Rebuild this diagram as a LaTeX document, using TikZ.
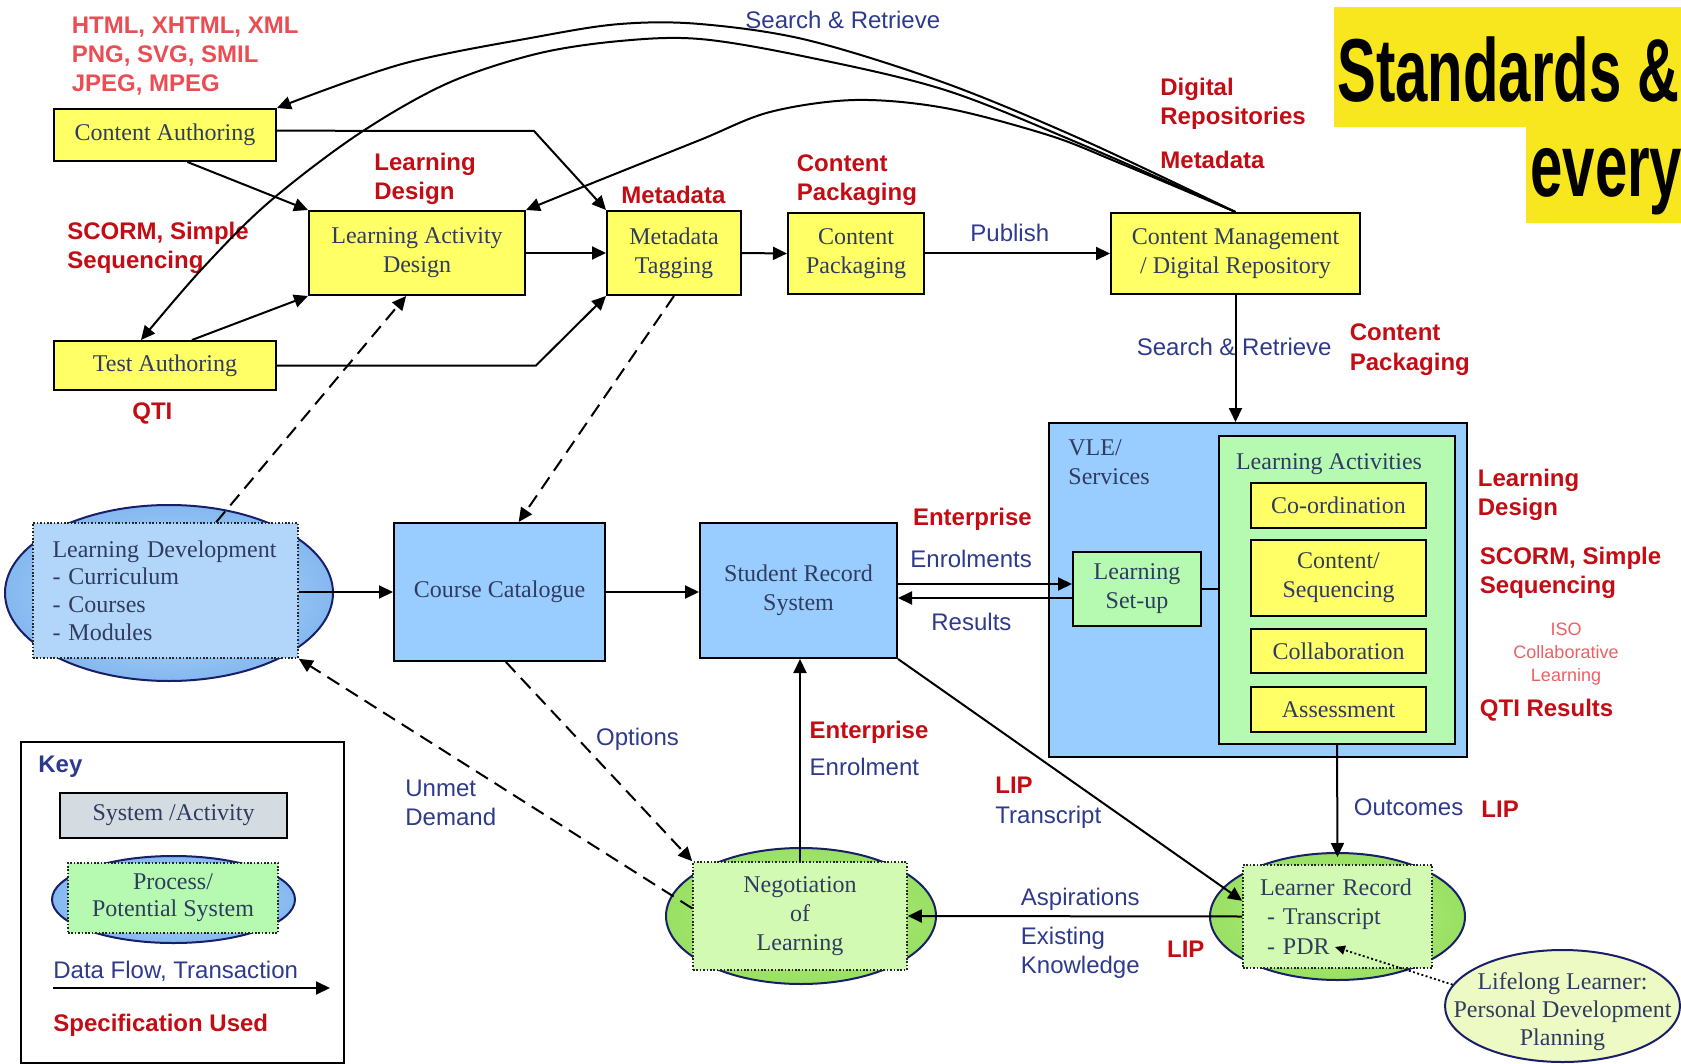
\documentclass[tikz,border=0pt]{standalone}
\usepackage{fontspec}
\setmainfont{Liberation Serif}
\setsansfont{Liberation Sans}
\newfontfamily\headfont{Liberation Sans}
\usetikzlibrary{arrows.meta,shapes.geometric,calc}

\definecolor{boxyellow}{RGB}{255,255,102}
\definecolor{sysblue}{RGB}{153,204,255}
\definecolor{devblue}{RGB}{178,214,250}
\definecolor{actgreen}{RGB}{182,250,178}
\definecolor{procgreen}{RGB}{210,250,178}
\definecolor{ellgreenin}{RGB}{190,240,140}
\definecolor{ellgreenout}{RGB}{152,224,98}
\definecolor{ellbluein}{RGB}{196,224,252}
\definecolor{ellblueout}{RGB}{132,184,240}
\definecolor{lifelong}{RGB}{238,250,196}
\definecolor{keygray}{RGB}{212,220,226}
\definecolor{ellline}{RGB}{25,30,105}
\definecolor{nodetext}{RGB}{48,60,95}
\definecolor{flowblue}{RGB}{46,58,140}
\definecolor{specred}{RGB}{196,12,20}
\definecolor{formatred}{RGB}{234,78,84}
\definecolor{isored}{RGB}{236,96,100}
\definecolor{titleyellow}{RGB}{248,230,30}

\newcommand\dgserif{\fontsize{12}{14.5}\selectfont\rmfamily}
\newcommand\dgsans{\fontsize{12}{14.5}\selectfont\sffamily}

\tikzset{
  sysbox/.style={draw=black, line width=1pt, inner sep=0pt, align=center, font=\dgserif, text=nodetext},
  ybox/.style={sysbox, fill=boxyellow},
  bbox/.style={sysbox, fill=sysblue},
  gbox/.style={sysbox, fill=actgreen},
  procell/.style={ellipse, draw=ellline, line width=1pt, inner sep=0pt},
  blueell/.style={procell, inner color=ellbluein, outer color=ellblueout},
  greenell/.style={procell, inner color=ellgreenin, outer color=ellgreenout},
  procrect/.style={draw=black!85, line width=0.8pt, dash pattern=on 0.8pt off 0.9pt, inner sep=0pt, font=\dgserif, text=nodetext},
  flow/.style={draw=black, line width=1pt, -{Triangle[length=7pt,width=6.5pt]}},
  maybe/.style={flow, dash pattern=on 7pt off 4pt},
  % multi-line labels: the base anchor sits on the last line
  spec/.style={anchor=base west, inner sep=0pt, align=left, font=\dgsans\bfseries, text=specred},
  fmt/.style={spec, text=formatred},
  flowlab/.style={anchor=base west, inner sep=0pt, align=left, font=\dgsans, text=flowblue},
  plainlab/.style={inner sep=0pt, font=\dgserif, text=nodetext},
}

\begin{document}
\begin{tikzpicture}[x=0.5pt, y=-0.5pt]
\useasboundingbox (0,0) rectangle (1681,1064);

% heading
\begin{scope}
  \clip (0,0) rectangle (1681,1064);
  \fill[titleyellow] (1334,7) rectangle (1681,127);
  \fill[titleyellow] (1526,127) rectangle (1681,223);
  \node[anchor=base west, inner sep=0pt, font=\headfont\bfseries\fontsize{44.7}{50}\selectfont] (title1) at (1337,102) {\scalebox{0.65}[1]{Standards \&}};
  \node[anchor=base west, inner sep=0pt, font=\headfont\bfseries\fontsize{44.7}{50}\selectfont] (title2) at (1530,197) {\scalebox{0.65}[1]{every}};
\end{scope}

% authoring chain
\node[ybox, minimum width=111pt, minimum height=26pt] (ca) at (165,135) {Content Authoring};
\node[ybox, minimum width=111pt, minimum height=24.5pt] (ta) at (165,365.5) {Test Authoring};
\node[ybox, minimum width=108pt, minimum height=42pt] (lad) at (417,253) {Learning Activity\\Design};
\node[ybox, minimum width=67pt, minimum height=42pt] (mt) at (674,253) {Metadata\\Tagging};
\node[ybox, minimum width=68pt, minimum height=40.5pt] (cp) at (856,253.5) {Content\\Packaging};
\node[ybox, minimum width=124.5pt, minimum height=40.5pt] (cms) at (1235.5,253.5) {Content Management\\/ Digital Repository};

% systems
\node[bbox, minimum width=105.5pt, minimum height=69pt] (cc) at (499.5,592) {Course Catalogue};
\node[bbox, minimum width=98.5pt, minimum height=67.5pt] (srs) at (798.5,590.5) {Student Record\\System};

% VLE
\node[bbox, minimum width=209pt, minimum height=167pt] (vle) at (1258,590) {};
\node[plainlab, anchor=base west, align=left] (vlelab) at (1068,484) {VLE/\\Services};
\node[gbox, minimum width=118pt, minimum height=154pt] (la) at (1337,590) {};
\node[plainlab, anchor=base] (lalab) at (1329,469) {Learning Activities};
\node[ybox, minimum width=87.5pt, minimum height=22.5pt] (coord) at (1338.5,505.5) {Co-ordination};
\node[ybox, minimum width=87.5pt, minimum height=38pt] (cseq) at (1338.5,578) {Content/\\Sequencing};
\node[ybox, minimum width=87.5pt, minimum height=22pt] (collab) at (1338.5,651) {Collaboration};
\node[ybox, minimum width=87.5pt, minimum height=22.5pt] (assess) at (1338.5,709.5) {Assessment};
\node[gbox, minimum width=64pt, minimum height=37pt] (ls) at (1137,589) {Learning\\Set-up};

% processes
\node[blueell, minimum width=164pt, minimum height=88pt] (lde) at (169,593) {};
\node[procrect, fill=devblue, minimum width=132.5pt, minimum height=67.5pt, text width=113pt, inner xsep=9.75pt, align=left, font=\fontsize{12}{13.9}\selectfont\rmfamily] (ldr) at (165.5,590.5) {Learning Development\\- Curriculum\\- Courses\\- Modules};

\node[greenell, minimum width=135pt, minimum height=68pt] (ne) at (801,916) {};
\node[procrect, fill=procgreen, minimum width=107pt, minimum height=54pt, align=center] (nr) at (800,916) {Negotiation\\of\\Learning};

\node[greenell, minimum width=127.5pt, minimum height=63.5pt] (lre) at (1337.5,916.5) {};
\node[procrect, fill=procgreen, minimum width=94.5pt, minimum height=51.5pt, text width=77.5pt, inner xsep=8.5pt, align=left, font=\fontsize{12}{14.75}\selectfont\rmfamily] (lrr) at (1337.5,916.5) {Learner Record\\\hspace*{3.5pt}- Transcript\\\hspace*{3.5pt}- PDR};

\node[procell, fill=lifelong, minimum width=117.5pt, minimum height=56pt] (ll) at (1562.5,1006) {};
\node[plainlab, align=center, font=\fontsize{12}{14}\selectfont\rmfamily] (lltext) at (1562.5,1012) {Lifelong Learner:\\Personal Development\\Planning};

% key
\node[draw=black, line width=1pt, minimum width=161.5pt, minimum height=160.5pt, inner sep=0pt] (key) at (182.5,902.5) {};
\node[spec, text=flowblue] (keylab) at (38,772.7) {Key};
\node[sysbox, fill=keygray, minimum width=113.5pt, minimum height=22.5pt] (ksys) at (173.5,815.5) {System /Activity};
\node[blueell, minimum width=121.5pt, minimum height=43.5pt] (kpe) at (173.5,899.5) {};
\node[procrect, fill=actgreen, minimum width=105pt, minimum height=35pt, align=center, font=\fontsize{12}{13.4}\selectfont\rmfamily] (kpr) at (173,898) {Process/\\Potential System};
\node[flowlab] (kflow) at (53,978) {Data Flow, Transaction};
\coordinate (kfrom) at (53,988);
\coordinate (kto) at (330,988);
\node[spec] (kspec) at (53,1031.7) {Specification Used};

% specification and flow labels
\node[fmt] (fmts) at (71.4,92) {HTML, XHTML, XML\\PNG, SVG, SMIL\\JPEG, MPEG};
\node[flowlab] (srtop) at (745,28.3) {Search \& Retrieve};
\node[spec] (ldspec1) at (374,200) {Learning\\Design};
\node[spec] (scorm1) at (67,268.6) {SCORM, Simple\\Sequencing};
\node[spec] (mdspec1) at (621,203.7) {Metadata};
\node[spec] (cpspec1) at (796.5,200.5) {Content\\Packaging};
\node[flowlab] (publish) at (970,241.7) {Publish};
\node[spec] (drspec) at (1160,125) {Digital\\Repositories};
\node[spec] (mdspec2) at (1160,168.3) {Metadata};
\node[spec] (qti1) at (132,419) {QTI};
\node[flowlab] (srlow) at (1136.4,355) {Search \& Retrieve};
\node[spec] (cpspec2) at (1349.4,370) {Content\\Packaging};
\node[spec] (ldspec2) at (1477.5,515) {Learning\\Design};
\node[spec] (scorm2) at (1479.5,593.5) {SCORM, Simple\\Sequencing};
\node[anchor=base, inner sep=0pt, align=center, font=\fontsize{9}{11.65}\selectfont\sffamily, text=isored] (iso) at (1566,681.7) {ISO\\Collaborative\\Learning};
\node[spec] (qtires) at (1479.5,716.7) {QTI Results};
\node[spec] (entspec1) at (912.6,525.7) {Enterprise};
\node[flowlab] (enrols) at (910,567) {Enrolments};
\node[flowlab] (results) at (931,630.7) {Results};
\node[flowlab] (options) at (595.8,745.7) {Options};
\node[flowlab] (unmet) at (405,825.7) {Unmet\\Demand};
\node[spec] (entspec2) at (809.3,738.3) {Enterprise};
\node[flowlab] (enrol) at (809.3,775) {Enrolment};
\node[spec] (lip1) at (995,793) {LIP};
\node[flowlab] (transcript) at (995,823) {Transcript};
\node[flowlab] (outcomes) at (1353.5,815) {Outcomes};
\node[spec] (lip2) at (1481,817) {LIP};
\node[flowlab] (aspir) at (1020.5,905) {Aspirations};
\node[flowlab] (existing) at (1020.5,973.7) {Existing\\Knowledge};
\node[spec] (lip3) at (1166.7,957) {LIP};

% authoring flows
\draw[flow] ($(ca.north east)!0.42!(ca.south east)$) -- (534,131) -- (mt.north west);
\draw[flow] ($(ca.south west)!0.6!(ca.south east)$) -- (lad.north west);
\draw[flow] ($(ta.north west)!0.62!(ta.north east)$) -- (lad.south west);
\draw[flow] (ta.east) -- (536,365.5) -- (mt.south west);
\draw[flow] (lad.east) -- (mt.west);
\draw[flow] (mt.east) -- (cp.west);
\draw[flow] (cp.east) -- (cms.west);
\draw[flow] (cms.south) -- (cms.south |- vle.north);

% search and retrieve from the repository
\draw[flow] plot[smooth, tension=0.55] coordinates {(cms.north) (1083,140) (945,83) (807,40) (700,24) (620,24) (536,37) (402,64) (ca.north east)};
\draw[flow] plot[smooth, tension=0.55] coordinates {(cms.north) (1083,145) (945,90) (807,57) (700,39) (620,41) (536,54) (446,84) (357,135) (268,203) (201,270) ([xshift=-12pt]ta.north)};
\draw[flow] plot[smooth, tension=0.55] coordinates {(cms.north) (1117,162) (1048,135) (945,108) (855,100) (770,112) (700,140) (600,180) (lad.north east)};

% development and catalogue
\draw[maybe] ($(ldr.north west)!0.69!(ldr.north east)$) -- ($(lad.south west)!0.45!(lad.south east)$);
\draw[maybe] (mt.south) -- ($(cc.north west)!0.59!(cc.north east)$);
\draw[flow] (ldr.east |- cc.west) -- (cc.west);
\draw[flow] (cc.east) -- (cc.east -| srs.west);

% enrolment and results
\coordinate (lsin) at ([yshift=2.5pt]ls.west);
\coordinate (lsout) at ([yshift=-4.5pt]ls.west);
\draw[flow] (srs.east |- lsin) -- (lsin);
\draw[flow] (lsout) -- (srs.east |- lsout);
\draw[line width=1pt] (ls.east) -- (ls.east -| la.west);

% learner record flows
\draw[flow] (la.south) -- ($(lre.north)+(0,5)$);
\draw[flow] (srs.south east) -- ($(lrr.north west)!0.35!(lrr.south west)$);
\draw[flow] (lrr.west) -- (nr.east);
\draw[flow] (nr.north) -- (nr.north |- srs.south);
\draw[maybe] ($(cc.south west)!0.53!(cc.south east)$) -- (nr.north west);
\draw[maybe] ($(nr.north west)!0.43!(nr.south west)$) -- (ldr.south east);
\coordinate (pdr) at (1335,947);
\draw[line width=0.9pt, dash pattern=on 1pt off 1.2pt, -{Triangle[length=5pt,width=4.5pt]}] (ll.169) -- (pdr);

% key arrow
\draw[flow] (kfrom) -- (kto);
\end{tikzpicture}
\end{document}
